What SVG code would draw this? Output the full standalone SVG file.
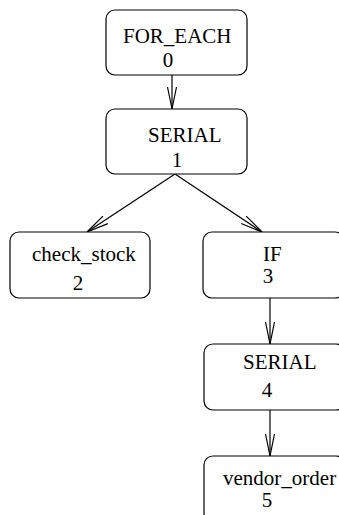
<svg xmlns="http://www.w3.org/2000/svg" width="339" height="515" viewBox="0 0 339 515">
  <style>
    .box { fill: #ffffff; stroke: #000000; stroke-width: 1.2; }
    .lbl { font-family: "Liberation Serif", "Times New Roman", serif; font-size: 21px; fill: #000000; }
    .num { font-family: "Liberation Serif", "Times New Roman", serif; font-size: 21px; fill: #000000; text-anchor: middle; }
    .edge { stroke: #000000; stroke-width: 1.2; fill: none; marker-end: url(#head); }
  </style>
  <defs>
    <marker id="head" markerUnits="userSpaceOnUse" markerWidth="26" markerHeight="14" refX="23" refY="7" orient="auto" overflow="visible">
      <path d="M1,2.5 L23,7 L1,11.5" fill="none" stroke="#000000" stroke-width="1.2"/>
    </marker>
  </defs>
  <rect width="339" height="515" fill="#ffffff"/>

  <g id="edges">
    <line class="edge" x1="172" y1="75" x2="172" y2="109"/>
    <line class="edge" x1="175" y1="174" x2="87" y2="232"/>
    <line class="edge" x1="175" y1="174" x2="262" y2="232"/>
    <line class="edge" x1="270" y1="298" x2="270" y2="344"/>
    <line class="edge" x1="270" y1="410" x2="270" y2="456"/>
  </g>

  <g id="node0">
    <rect class="box" x="106" y="10" width="141" height="65" rx="9"/>
    <text class="lbl" x="123" y="43">FOR_EACH</text>
    <text class="num" x="168" y="67">0</text>
  </g>
  <g id="node1">
    <rect class="box" x="106" y="109" width="141" height="65" rx="9"/>
    <text class="lbl" x="148" y="142">SERIAL</text>
    <text class="num" x="177" y="167">1</text>
  </g>
  <g id="node2">
    <rect class="box" x="10" y="232" width="140" height="66" rx="9"/>
    <text class="lbl" x="32" y="261">check_stock</text>
    <text class="num" x="78" y="290">2</text>
  </g>
  <g id="node3">
    <rect class="box" x="203" y="232" width="141" height="66" rx="9"/>
    <text class="lbl" x="263" y="261">IF</text>
    <text class="num" x="268" y="283">3</text>
  </g>
  <g id="node4">
    <rect class="box" x="204" y="344" width="141" height="66" rx="9"/>
    <text class="lbl" x="243" y="369">SERIAL</text>
    <text class="num" x="267" y="397">4</text>
  </g>
  <g id="node5">
    <rect class="box" x="204" y="456" width="141" height="66" rx="9"/>
    <text class="lbl" x="223" y="485">vendor_order</text>
    <text class="num" x="267" y="507">5</text>
  </g>
</svg>
